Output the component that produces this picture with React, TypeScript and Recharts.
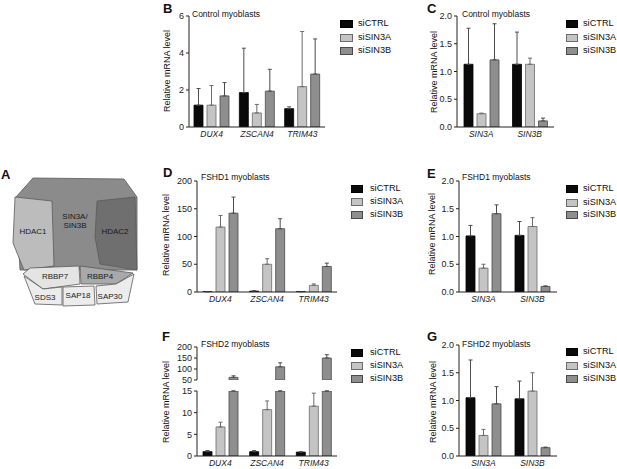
import { BarChart, Bar, XAxis, YAxis, ErrorBar, Surface, Polygon } from "recharts";

// categories
const genes = ["DUX4", "ZSCAN4", "TRIM43"];
const sinGenes = ["SIN3A", "SIN3B"];
const seriesNames = ["siCTRL", "siSIN3A", "siSIN3B"];

// B - control myoblasts, FSHD targets (mean, SD up)
const bCtrl = [1.18, 1.86, 0.99];
const bCtrlSd = [0.9, 2.4, 0.1];
const bSin3a = [1.18, 0.76, 2.18];
const bSin3aSd = [1.06, 0.46, 2.98];
const bSin3b = [1.68, 1.94, 2.86];
const bSin3bSd = [0.72, 1.18, 1.9];

// C - control myoblasts, SIN3 knockdown
const cCtrl = [1.13, 1.13];
const cCtrlSd = [0.65, 0.58];
const cSin3a = [0.24, 1.13];
const cSin3aSd = [0.01, 0.11];
const cSin3b = [1.21, 0.11];
const cSin3bSd = [0.65, 0.05];

// D - FSHD1 myoblasts, targets
const dCtrl = [0.5, 1.5, 0.5];
const dCtrlSd = [0.2, 0.8, 0.2];
const dSin3a = [117, 50, 12];
const dSin3aSd = [21, 10, 2.5];
const dSin3b = [142, 114, 46];
const dSin3bSd = [29, 18, 6];

// E - FSHD1 myoblasts, SIN3 knockdown
const eCtrl = [1.01, 1.02];
const eCtrlSd = [0.19, 0.25];
const eSin3a = [0.43, 1.18];
const eSin3aSd = [0.07, 0.16];
const eSin3b = [1.41, 0.1];
const eSin3bSd = [0.16, 0.01];

// F - FSHD2 myoblasts, targets (broken axis)
const fCtrl = [1.0, 1.0, 0.9];
const fCtrlSd = [0.25, 0.25, 0.1];
const fSin3a = [6.7, 10.7, 11.5];
const fSin3aSd = [1.1, 2.0, 3.0];
const fSin3b = [62, 110, 150];
const fSin3bSd = [7, 18, 15];

// G - FSHD2 myoblasts, SIN3 knockdown
const gCtrl = [1.05, 1.03];
const gCtrlSd = [0.68, 0.32];
const gSin3a = [0.37, 1.17];
const gSin3aSd = [0.11, 0.33];
const gSin3b = [0.94, 0.15];
const gSin3bSd = [0.31, 0.01];

const SERIES = [
  { key: "siCTRL", err: "eCtrl", fill: "#0a0a0a", stroke: "#000", errStroke: "#4d4d4d" },
  { key: "siSIN3A", err: "eA", fill: "#c4c4c4", stroke: "#6b6b6b", errStroke: "#6b6b6b" },
  { key: "siSIN3B", err: "eB", fill: "#8e8e8e", stroke: "#4a4a4a", errStroke: "#4a4a4a" },
];

const FONT = "'Liberation Sans', Arial, sans-serif";

function rows(cats: string[], c: number[], cs: number[], a: number[], as: number[], b: number[], bs: number[]) {
  return cats.map((name, i) => ({
    name,
    siCTRL: c[i], siSIN3A: a[i], siSIN3B: b[i],
    eCtrl: [0, cs[i]], eA: [0, as[i]], eB: [0, bs[i]],
  }));
}

// split rows for the broken axis of F
function clipRows(data: any[], lo: number, hi: number) {
  return data.map(r => {
    const out: any = { name: r.name };
    SERIES.forEach(s => {
      const v = r[s.key];
      if (v < lo) { out[s.key] = null; out[s.err] = [0, 0]; }
      else if (v > hi) { out[s.key] = hi; out[s.err] = [0, 0]; }
      else { out[s.key] = v; out[s.err] = r[s.err]; }
    });
    return out;
  });
}

const bData = rows(genes, bCtrl, bCtrlSd, bSin3a, bSin3aSd, bSin3b, bSin3bSd);
const cData = rows(sinGenes, cCtrl, cCtrlSd, cSin3a, cSin3aSd, cSin3b, cSin3bSd);
const dData = rows(genes, dCtrl, dCtrlSd, dSin3a, dSin3aSd, dSin3b, dSin3bSd);
const eData = rows(sinGenes, eCtrl, eCtrlSd, eSin3a, eSin3aSd, eSin3b, eSin3bSd);
const fData = rows(genes, fCtrl, fCtrlSd, fSin3a, fSin3aSd, fSin3b, fSin3bSd);
const gData = rows(sinGenes, gCtrl, gCtrlSd, gSin3a, gSin3aSd, gSin3b, gSin3bSd);
const fLow = clipRows(fData, -Infinity, 15);
const fHigh = clipRows(fData, 50, Infinity);

const fmt1 = (v: number) => v.toFixed(1);
const fmt0 = (v: number) => String(v);

type Box = { l: number; t: number; r: number; b: number };

function Panel({ box, data, domain, ticks, fmt, hideX = false, errs = [true, true, true] }:
  { box: Box; data: any[]; domain: number[]; ticks: number[]; fmt: (v: number) => string; hideX?: boolean; errs?: boolean[] }) {
  const yw = 45;
  const left = box.l - yw;
  const top = box.t - 6;
  const xh = hideX ? 0 : 14;
  const width = box.r + 5 - left;
  const height = box.b - top + xh + 6;
  return (
    <div style={{ position: "absolute", left, top }}>
      <BarChart width={width} height={height} data={data}
        margin={{ top: 6, right: 5, bottom: 6, left: 0 }} barSize={9} barGap={4}>
        <XAxis dataKey="name" hide={hideX} height={xh} tickLine={false} tickSize={2} interval={0}
          axisLine={{ stroke: "#222" }} tick={{ fontSize: 8.5, fontStyle: "italic", fill: "#222" }} />
        <YAxis type="number" width={yw} domain={domain as any} ticks={ticks} interval={0} allowDataOverflow
          tickFormatter={fmt} tickSize={3} tickLine={{ stroke: "#222" }} axisLine={{ stroke: "#222" }}
          tick={{ fontSize: 9, fill: "#222" }} />
        {SERIES.map((s, i) => (
          <Bar key={s.key} dataKey={s.key} fill={s.fill} stroke={s.stroke} strokeWidth={0.8} isAnimationActive={false}>
            {errs[i] && <ErrorBar dataKey={s.err} width={2} stroke={s.errStroke} strokeWidth={1} direction="y" />}
          </Bar>
        ))}
      </BarChart>
    </div>
  );
}

function Txt({ x, y, size, bold = false, children }: { x: number; y: number; size: number; bold?: boolean; children: any }) {
  return (
    <div style={{ position: "absolute", left: x, top: y, transform: "translateY(-50%)", fontSize: size, lineHeight: 1, fontWeight: bold ? "bold" : "normal", whiteSpace: "nowrap", color: "#111" }}>
      {children}
    </div>
  );
}

function YLabel({ x, y }: { x: number; y: number }) {
  return (
    <div style={{ position: "absolute", left: x, top: y, transform: "translate(-50%,-50%) rotate(-90deg)", fontSize: 9, lineHeight: 1, whiteSpace: "nowrap", color: "#111" }}>
      Relative mRNA level
    </div>
  );
}

function Legend({ x, w, tx, ys }: { x: number; w: number; tx: number; ys: number[] }) {
  return (
    <>
      {SERIES.map((s, i) => (
        <div key={s.key}>
          <div style={{ position: "absolute", left: x, top: ys[i] - 4, width: w, height: 8, background: s.fill, border: `1px solid ${s.stroke}`, boxSizing: "border-box" }} />
          <Txt x={tx} y={ys[i]} size={9.2}>{seriesNames[i]}</Txt>
        </div>
      ))}
    </>
  );
}

// complex diagram (panel A)
const shapes = [
  { name: "SIN3", fill: "#8b8b8b", pts: [[16, 197], [33, 178], [124, 179], [137, 197], [137, 270], [20, 270]] },
  { name: "HDAC1", fill: "#bcbcbc", pts: [[15, 197], [52, 201], [54, 266], [24, 270], [13, 243]] },
  { name: "HDAC2", fill: "#6f6f6f", pts: [[97, 201], [135, 197], [137, 270], [100, 264], [95, 237]] },
  { name: "RBBP7", fill: "#e4e4e4", pts: [[23, 274], [30, 268], [79, 266], [80, 284], [43, 289]] },
  { name: "RBBP4", fill: "#a9a9a9", pts: [[80, 266], [133, 273], [116, 284], [81, 284]] },
  { name: "SDS3", fill: "#ececec", pts: [[24, 276], [43, 289], [62, 287], [62, 305], [35, 304]] },
  { name: "SAP18", fill: "#ececec", pts: [[63, 287], [94, 286], [95, 305], [63, 306]] },
  { name: "SAP30", fill: "#ececec", pts: [[96, 286], [116, 284], [134, 274], [128, 302], [97, 304]] },
];
const shapeLabels = [
  { t: "SIN3A/", x: 75, y: 217 }, { t: "SIN3B", x: 75, y: 226 },
  { t: "HDAC1", x: 33, y: 232 }, { t: "HDAC2", x: 115, y: 232 },
  { t: "RBBP7", x: 55, y: 277 }, { t: "RBBP4", x: 100, y: 277 },
  { t: "SDS3", x: 45, y: 298 }, { t: "SAP18", x: 78, y: 296 }, { t: "SAP30", x: 110, y: 297 },
];

function Complex() {
  return (
    <div style={{ position: "absolute", left: 0, top: 0 }}>
      <Surface width={150} height={320}>
        {shapes.map(s => (
          <Polygon key={s.name} points={s.pts.map(([x, y]) => ({ x, y }))} fill={s.fill} stroke="#5a5a5a" strokeWidth={0.8} />
        ))}
        {shapeLabels.map(l => (
          <text key={l.t} x={l.x} y={l.y} fontSize={8} textAnchor="middle" dominantBaseline="middle" fill="#1a1a1a" fontFamily={FONT}>{l.t}</text>
        ))}
      </Surface>
    </div>
  );
}

export default function App() {
  return (
    <div style={{ position: "absolute", left: 0, top: 0, width: 617, height: 469, background: "#fff", fontFamily: FONT, overflow: "hidden" }}>
      <Complex />
      <Txt x={1} y={174} size={13} bold>A</Txt>

      {/* B */}
      <Txt x={163} y={8} size={13} bold>B</Txt>
      <Txt x={192} y={14} size={8.5}>Control myoblasts</Txt>
      <YLabel x={167} y={71} />
      <Panel box={{ l: 189, t: 16, r: 325, b: 127 }} data={bData} domain={[0, 6]} ticks={[0, 2, 4, 6]} fmt={fmt0} />
      <Legend x={340} w={13} tx={358} ys={[24, 37.5, 51]} />

      {/* C */}
      <Txt x={427} y={8} size={13} bold>C</Txt>
      <Txt x={462} y={14} size={8.5}>Control myoblasts</Txt>
      <YLabel x={434} y={72} />
      <Panel box={{ l: 457, t: 16, r: 554, b: 127 }} data={cData} domain={[0, 2]} ticks={[0, 0.5, 1, 1.5, 2]} fmt={fmt1} />
      <Legend x={566} w={12} tx={583} ys={[24, 37.5, 51]} />

      {/* D */}
      <Txt x={163} y={172} size={13} bold>D</Txt>
      <Txt x={201} y={177} size={8.5}>FSHD1 myoblasts</Txt>
      <YLabel x={166} y={235} />
      <Panel box={{ l: 197, t: 181, r: 337, b: 292 }} data={dData} domain={[0, 200]} ticks={[0, 50, 100, 150, 200]} fmt={fmt0} />
      <Legend x={351} w={12} tx={370} ys={[189, 202, 215]} />

      {/* E */}
      <Txt x={427} y={173} size={13} bold>E</Txt>
      <Txt x={462} y={177} size={8.5}>FSHD1 myoblasts</Txt>
      <YLabel x={432} y={234} />
      <Panel box={{ l: 459, t: 181, r: 557, b: 292 }} data={eData} domain={[0, 2]} ticks={[0, 0.5, 1, 1.5, 2]} fmt={fmt1} />
      <Legend x={566} w={12} tx={583} ys={[189, 202.5, 215]} />

      {/* F */}
      <Txt x={162} y={336} size={13} bold>F</Txt>
      <Txt x={201} y={344} size={8.5}>FSHD2 myoblasts</Txt>
      <YLabel x={166} y={402} />
      <Panel box={{ l: 197, t: 347, r: 337, b: 380 }} data={fHigh} domain={[50, 200]} ticks={[50, 100, 150, 200]} fmt={fmt0} hideX errs={[false, false, true]} />
      <Panel box={{ l: 197, t: 391, r: 337, b: 456 }} data={fLow} domain={[0, 15]} ticks={[0, 5, 10, 15]} fmt={fmt0} />
      <Legend x={351} w={12} tx={370} ys={[353, 366, 379]} />

      {/* G */}
      <Txt x={427} y={336} size={13} bold>G</Txt>
      <Txt x={462} y={344} size={8.5}>FSHD2 myoblasts</Txt>
      <YLabel x={433} y={402} />
      <Panel box={{ l: 459, t: 345, r: 557, b: 456 }} data={gData} domain={[0, 2]} ticks={[0, 0.5, 1, 1.5, 2]} fmt={fmt1} />
      <Legend x={566} w={12} tx={583} ys={[352, 366, 379]} />
    </div>
  );
}
